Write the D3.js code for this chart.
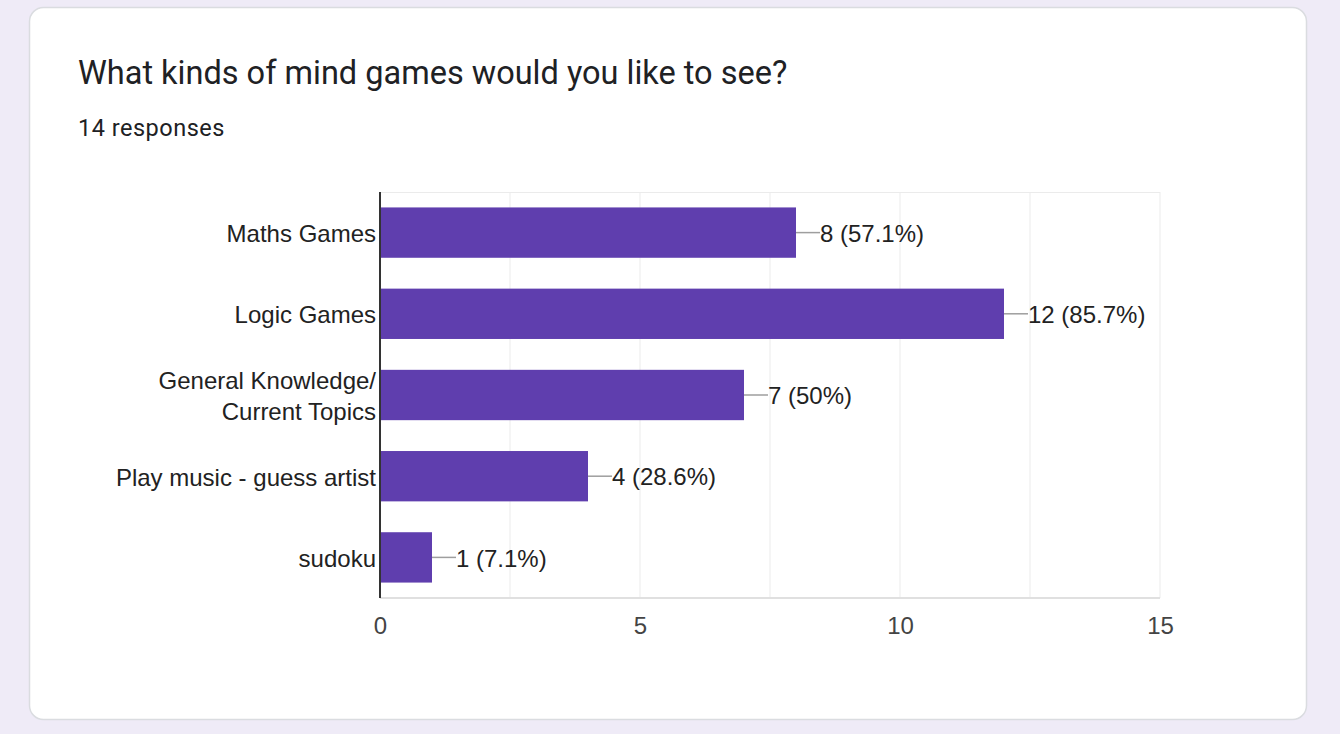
<!DOCTYPE html>
<html><head><meta charset="utf-8">
<script src="https://cdn.jsdelivr.net/npm/d3@7"></script>
<style>body{margin:0;background:#efebf7;}svg{display:block;}</style>
</head><body>
<svg id="c" width="1340" height="734"></svg>
<script>
const categories = ["Maths Games", "Logic Games", "General Knowledge/\nCurrent Topics", "Play music - guess artist", "sudoku"];
const values = [8, 12, 7, 4, 1];
const labels = ["8 (57.1%)", "12 (85.7%)", "7 (50%)", "4 (28.6%)", "1 (7.1%)"];
const tickValues = [0, 5, 10, 15];
const gridValues = [2.5, 5, 7.5, 10, 12.5, 15];
const title = "What kinds of mind games would you like to see?";
const subtitle = "14 responses";

(function () {
const svg = d3.select("#c");
svg.append("rect").attr("width", 1340).attr("height", 734).attr("fill", "#efebf7");
svg.append("rect").attr("x", 29.5).attr("y", 7.5).attr("width", 1277).attr("height", 712)
  .attr("rx", 14).attr("fill", "#fff").attr("stroke", "#dadce0").attr("stroke-width", 1.5);

svg.append("text").attr("x", 78).attr("y", 84).text(title)
  .attr("font-family", "Roboto, 'Open Sans', sans-serif").attr("font-size", 32.5).attr("fill", "#202124");
svg.append("text").attr("x", 78).attr("y", 136).text(subtitle)
  .attr("font-family", "Roboto, sans-serif").attr("font-size", 23.5).attr("fill", "#202124").attr("letter-spacing", 0.5);

const pL = 380, pR = 1160, pT = 192, pB = 598;
const x = d3.scaleLinear().domain([0, 15]).range([pL, pR]);
const y = d3.scaleBand().domain(categories).range([pT, pB]).paddingInner(0.38).paddingOuter(0.19);

const g = svg.append("g");
g.selectAll("line.grid").data(gridValues).join("line")
  .attr("x1", d => x(d)).attr("x2", d => x(d)).attr("y1", pT).attr("y2", pB)
  .attr("stroke", "#ebebeb").attr("stroke-width", 1);
g.append("line").attr("x1", pL).attr("x2", pR).attr("y1", pT + 0.5).attr("y2", pT + 0.5).attr("stroke", "#ebebeb");
g.append("line").attr("x1", pL).attr("x2", pR).attr("y1", pB).attr("y2", pB).attr("stroke", "#e0e0e0").attr("stroke-width", 2);

g.selectAll("rect.bar").data(categories).join("rect")
  .attr("x", x(0)).attr("y", d => y(d)).attr("width", (d, i) => x(values[i]) - x(0)).attr("height", y.bandwidth())
  .attr("fill", "#5f3eae");

g.selectAll("line.lead").data(categories).join("line")
  .attr("x1", (d, i) => x(values[i])).attr("x2", (d, i) => x(values[i]) + 24)
  .attr("y1", d => y(d) + y.bandwidth() / 2).attr("y2", d => y(d) + y.bandwidth() / 2)
  .attr("stroke", "#9e9e9e").attr("stroke-width", 1.5);
g.selectAll("text.val").data(categories).join("text")
  .attr("x", (d, i) => x(values[i]) + 24).attr("y", d => y(d) + y.bandwidth() / 2)
  .attr("dy", "0.38em").text((d, i) => labels[i])
  .attr("font-family", "'Liberation Sans', Arial, sans-serif").attr("font-size", 24).attr("fill", "#222");

const cl = g.selectAll("text.cat").data(categories).join("text")
  .attr("text-anchor", "end").attr("font-family", "'Liberation Sans', Arial, sans-serif")
  .attr("font-size", 24).attr("fill", "#222");
cl.each(function(d) {
  const lines = d.split("\n");
  const cy = y(d) + y.bandwidth() / 2;
  const t = d3.select(this);
  lines.forEach((ln, k) => {
    t.append("tspan").attr("x", 376).attr("y", cy + (k - (lines.length - 1) / 2) * 31).attr("dy", "0.4em").text(ln);
  });
});

const ax = g.append("g").attr("transform", `translate(0,${pB})`)
  .call(d3.axisBottom(x).tickValues(tickValues).tickSize(0).tickPadding(19));
ax.select(".domain").remove();
ax.selectAll("text").attr("font-family", "'Liberation Sans', Arial, sans-serif").attr("font-size", 24).attr("fill", "#444");

g.append("line").attr("x1", pL).attr("x2", pL).attr("y1", pT).attr("y2", pB)
  .attr("stroke", "#333").attr("stroke-width", 2);
})();
</script>
</body></html>
